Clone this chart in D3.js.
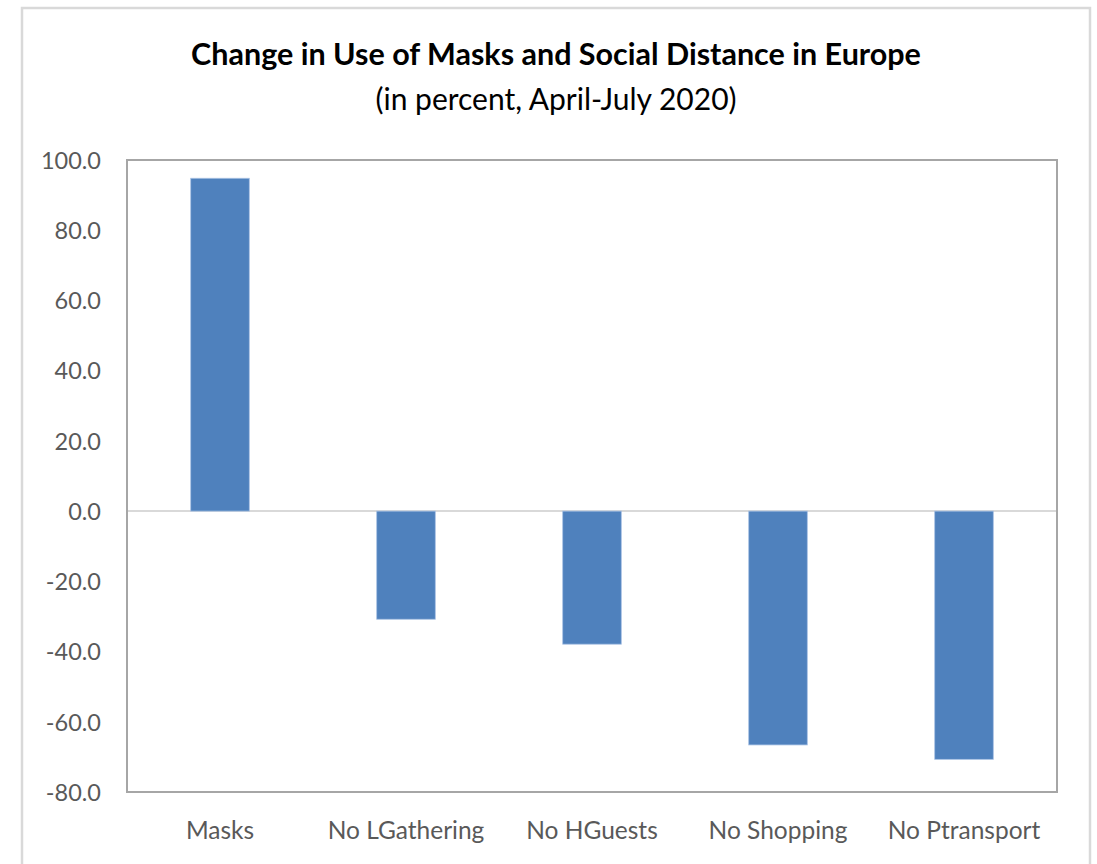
<!DOCTYPE html>
<html>
<head>
<meta charset="utf-8">
<script src="https://cdn.jsdelivr.net/npm/d3@7"></script>
<style>
  html, body { margin: 0; padding: 0; background: #fff; }
  svg { display: block; }
</style>
</head>
<body>
<svg id="chart" width="1097" height="864"></svg>
<script>
// Change in behaviour, percent, April–July 2020
const categories = ["Masks", "No LGathering", "No HGuests", "No Shopping", "No Ptransport"];
const values = [94.8, -30.8, -37.9, -66.6, -70.7];
const yTicks = [100, 80, 60, 40, 20, 0, -20, -40, -60, -80];

const svg = d3.select("#chart");
const font = "Lato, 'Open Sans', sans-serif";

// chart frame
svg.append("rect")
  .attr("x", 22).attr("y", 8)
  .attr("width", 1068).attr("height", 870)
  .attr("fill", "#fff")
  .attr("stroke", "#d9d9d9")
  .attr("stroke-width", 2.5);

const plot = { left: 127, right: 1057, top: 160, bottom: 792 };

const x = d3.scaleBand()
  .domain(categories)
  .range([plot.left, plot.right])
  .paddingInner(0.685)
  .paddingOuter(0.3425);

const y = d3.scaleLinear()
  .domain([-80, 100])
  .range([plot.bottom, plot.top]);

// titles
svg.append("text")
  .attr("x", 556).attr("y", 65)
  .attr("text-anchor", "middle")
  .attr("font-family", font)
  .attr("font-weight", "bold")
  .attr("font-size", 30.5)
  .attr("fill", "#000")
  .text("Change in Use of Masks and Social Distance in Europe");

svg.append("text")
  .attr("x", 556).attr("y", 110)
  .attr("text-anchor", "middle")
  .attr("font-family", font)
  .attr("font-size", 30)
  .attr("fill", "#000")
  .text("(in percent, April-July 2020)");

// zero line
svg.append("line")
  .attr("x1", plot.left).attr("x2", plot.right)
  .attr("y1", y(0)).attr("y2", y(0))
  .attr("stroke", "#d9d9d9")
  .attr("stroke-width", 2);

// bars
svg.append("g")
  .selectAll("rect")
  .data(categories.map((c, i) => ({ c, v: values[i] })))
  .join("rect")
  .attr("x", d => x(d.c))
  .attr("width", x.bandwidth())
  .attr("y", d => y(Math.max(0, d.v)))
  .attr("height", d => Math.abs(y(d.v) - y(0)))
  .attr("fill", "#4f81bd")
  .attr("stroke", "#a9c2e4")
  .attr("stroke-width", 0.8);

// plot border
svg.append("rect")
  .attr("x", plot.left).attr("y", plot.top)
  .attr("width", plot.right - plot.left)
  .attr("height", plot.bottom - plot.top)
  .attr("fill", "none")
  .attr("stroke", "#a6a6a6")
  .attr("stroke-width", 2);

// y axis labels, one decimal with a plain hyphen for negatives
const fmt = d3.format(".1f");
const yAxis = d3.axisLeft(y)
  .tickValues(yTicks)
  .tickFormat(d => fmt(d).replace("\u2212", "-"))
  .tickSize(0)
  .tickPadding(26);

const gy = svg.append("g")
  .attr("transform", `translate(${plot.left},0)`)
  .call(yAxis);
gy.select(".domain").remove();
gy.selectAll("text")
  .attr("font-family", font)
  .attr("font-size", 23.5)
  .attr("fill", "#595959")
  .attr("dy", "0.35em");

// x axis labels
const xAxis = d3.axisBottom(x).tickSize(0).tickPadding(30);
const gx = svg.append("g")
  .attr("transform", `translate(0,${plot.bottom})`)
  .call(xAxis);
gx.select(".domain").remove();
gx.selectAll("text")
  .attr("font-family", font)
  .attr("font-size", 24.5)
  .attr("fill", "#595959");
</script>
</body>
</html>
